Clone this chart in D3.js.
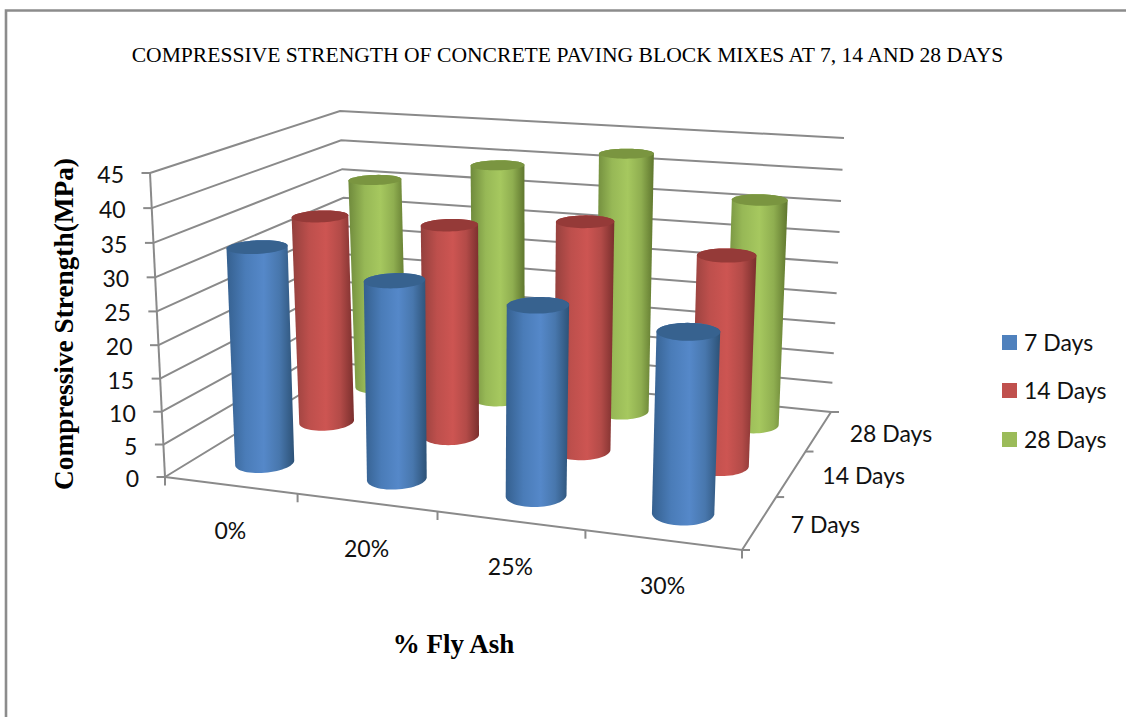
<!DOCTYPE html>
<html>
<head>
<meta charset="utf-8">
<script src="https://cdn.jsdelivr.net/npm/d3@7"></script>
<style>
  html, body { margin: 0; padding: 0; background: #fff; overflow: hidden; }
  svg { display: block; }
  .sans { font-family: Lato, "Open Sans", sans-serif; fill: #111; }
  .serif { font-family: "Liberation Serif", serif; fill: #000; }
</style>
</head>
<body>
<svg id="chart" width="1126" height="717"></svg>
<script>
// Compressive strength in MPa, one array per curing age, one value per fly ash share
const categories = ["0%", "20%", "25%", "30%"];
const depthLabels = ["7 Days", "14 Days", "28 Days"];
const days7 = [33.0, 29.7, 27.9, 26.0];
const days14 = [33.5, 33.6, 35.6, 32.1];
const days28 = [35.6, 39.3, 42.4, 36.4];
const valueTicks = [0, 5, 10, 15, 20, 25, 30, 35, 40, 45];

const seriesValues = [days7, days14, days28];
const palette = [
  { stops: ["#35608f", "#4a7cb8", "#5588c9", "#4877ad", "#2d5277"], cap: "#37628f", key: "#4f81bd" },
  { stops: ["#93403d", "#bd4f4c", "#cd5552", "#b34b48", "#7a2f2d"], cap: "#953a38", key: "#c0504d" },
  { stops: ["#6f8a3c", "#97b856", "#a6c85f", "#8fae50", "#5f762e"], cap: "#7a9540", key: "#9bbb59" }
];

const svg = d3.select("#chart");
const defs = svg.append("defs");

// Map the unit square onto a screen quadrilateral (corners in order u0v0, u1v0, u1v1, u0v1)
function quadMap([p0, p1, p2, p3]) {
  const dx1 = p1[0] - p2[0], dx2 = p3[0] - p2[0], sx = p0[0] - p1[0] + p2[0] - p3[0];
  const dy1 = p1[1] - p2[1], dy2 = p3[1] - p2[1], sy = p0[1] - p1[1] + p2[1] - p3[1];
  const det = dx1 * dy2 - dx2 * dy1;
  const g = (sx * dy2 - dx2 * sy) / det, h = (dx1 * sy - sx * dy1) / det;
  const a = p1[0] - p0[0] + g * p1[0], b = p3[0] - p0[0] + h * p3[0], c = p0[0];
  const d = p1[1] - p0[1] + g * p1[1], e = p3[1] - p0[1] + h * p3[1], f = p0[1];
  return (u, v) => {
    const w = g * u + h * v + 1;
    return [(a * u + b * v + c) / w, (d * u + e * v + f) / w];
  };
}

// The chart box seen in perspective: floor plane and ceiling plane
const floorPlane = quadMap([[165, 477], [742, 550], [831, 412], [350, 364]]);
const ceilingPlane = quadMap([[150, 173], [754, 213], [844, 138], [340, 111]]);

const xBand = d3.scaleBand().domain(categories).range([0, 1]);
const zBand = d3.scaleBand().domain(depthLabels).range([0, 1]);
const level = d3.scaleLinear().domain([0, 45]).range([0, 1]);

// Height steps grow slightly towards the top because the camera looks down
const verticalPerspective = 0.045;

function project(u, v, value) {
  const a = floorPlane(u, v), b = ceilingPlane(u, v), l = level(value);
  const t = l / (1 + verticalPerspective * (1 - l));
  return [a[0] + (b[0] - a[0]) * t, a[1] + (b[1] - a[1]) * t];
}

const line = d3.line();
const gridColor = "#8a8a8a";

function stroke(points, width) {
  svg.append("path").attr("d", line(points)).attr("fill", "none")
    .attr("stroke", gridColor).attr("stroke-width", width === undefined ? 2 : width);
}

// Sheet border, open towards the right and bottom edges
svg.append("path").attr("d", line([[6, 717], [6, 10.5], [1126, 10.5]]))
  .attr("fill", "none").attr("stroke", "#8c8c8c").attr("stroke-width", 2.6);

// Value gridlines on the side wall and the back wall, with ticks on the value axis
valueTicks.forEach(t => {
  const front = project(0, 0, t), corner = project(0, 1, t), right = project(1, 1, t);
  stroke([front, corner, right]);
  stroke([[front[0] - 8.5, front[1]], front]);
});
stroke([project(0, 0, 0), project(0, 0, 45)]);

// Floor edges and their ticks
stroke([project(0, 0, 0), project(1, 0, 0), project(1, 1, 0)]);
d3.range(0, categories.length + 1).forEach(i => {
  const p = project(i / categories.length, 0, 0);
  stroke([p, [p[0], p[1] + 8.5]]);
});
d3.range(0, depthLabels.length + 1).forEach(i => {
  const p = project(1, i / depthLabels.length, 0);
  stroke([p, [p[0] + 8, p[1]]]);
});

// Cylinder radius expressed in floor units along the category and depth directions
const radiusU = 0.0495, radiusV = 0.075;
const circleAngles = d3.range(0, 360, 6).map(d => d * Math.PI / 180);

function ring(u, v, value) {
  return circleAngles.map(a =>
    project(u + radiusU * Math.cos(a), v + radiusV * Math.sin(a), value));
}

// Back row first so that nearer cylinders overlap the ones behind
d3.range(depthLabels.length - 1, -1, -1).forEach(row => {
  const colors = palette[row];
  const v = zBand(depthLabels[row]) + zBand.bandwidth() / 2;
  seriesValues[row].forEach((value, col) => {
    const u = xBand(categories[col]) + xBand.bandwidth() / 2;
    const base = ring(u, v, 0), top = ring(u, v, value);
    const id = `shade-${row}-${col}`;
    const gradient = defs.append("linearGradient").attr("id", id)
      .attr("x1", 0).attr("x2", 1).attr("y1", 0).attr("y2", 0);
    [0, 0.28, 0.55, 0.78, 1].forEach((o, i) => {
      gradient.append("stop").attr("offset", o).attr("stop-color", colors.stops[i]);
    });
    const hull = d3.polygonHull(base.concat(top));
    svg.append("path").attr("d", line(hull) + "Z").attr("fill", `url(#${id})`);
    svg.append("path").attr("d", line(top) + "Z").attr("fill", colors.cap);
  });
});

// Value axis labels
valueTicks.forEach(t => {
  const p = project(0, 0, t);
  svg.append("text").attr("class", "sans").attr("x", p[0] - 26).attr("y", p[1] + 10)
    .attr("text-anchor", "end").attr("font-size", 23).text(t);
});

// Category labels below the front edge
categories.forEach(c => {
  const p = project(xBand(c) + xBand.bandwidth() / 2, 0, 0);
  svg.append("text").attr("class", "sans").attr("x", p[0]).attr("y", p[1] + 54)
    .attr("text-anchor", "middle").attr("font-size", 23).text(c);
});

// Depth labels beside the right floor edge
depthLabels.forEach(d => {
  const p = project(1, zBand(d) + zBand.bandwidth() / 2, 0);
  svg.append("text").attr("class", "sans").attr("x", p[0] + 31).attr("y", p[1] + 11)
    .attr("font-size", 23).text(d);
});

// Legend
const legendRows = [342, 390, 439];
depthLabels.forEach((d, i) => {
  svg.append("rect").attr("x", 1002).attr("y", legendRows[i] - 7)
    .attr("width", 15).attr("height", 15).attr("fill", palette[i].key);
  svg.append("text").attr("class", "sans").attr("x", 1024).attr("y", legendRows[i] + 9)
    .attr("font-size", 23).text(d);
});

// Titles
svg.append("text").attr("class", "serif").attr("x", 567.5).attr("y", 62)
  .attr("text-anchor", "middle").attr("font-size", 21.6)
  .text("COMPRESSIVE STRENGTH OF CONCRETE PAVING BLOCK MIXES AT 7, 14 AND 28 DAYS");
svg.append("text").attr("class", "serif").attr("font-weight", "bold")
  .attr("font-size", 27.3).attr("text-anchor", "middle")
  .attr("transform", "translate(73,324) rotate(-90)").text("Compressive Strength(MPa)");
svg.append("text").attr("class", "serif").attr("font-weight", "bold")
  .attr("font-size", 27).attr("text-anchor", "middle")
  .attr("x", 453.5).attr("y", 653).text("% Fly Ash");
</script>
</body>
</html>
